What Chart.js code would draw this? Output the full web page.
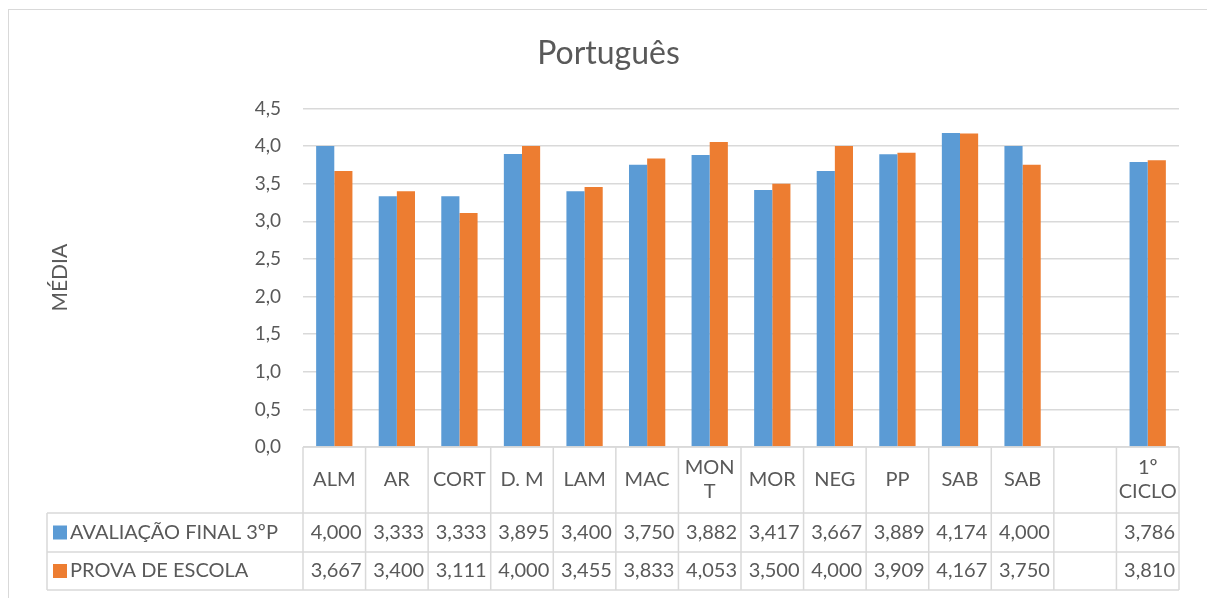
<!DOCTYPE html>
<html>
<head>
<meta charset="utf-8">
<script src="https://cdn.jsdelivr.net/npm/chart.js@4"></script>
<style>
html,body{margin:0;padding:0;background:#fff;}
#wrap{width:1207px;height:598px;position:relative;}
</style>
</head>
<body>
<div id="wrap"><canvas id="c" width="1207" height="598"></canvas></div>
<script>
const categories = ['ALM','AR','CORT','D. M','LAM','MAC','MONT','MOR','NEG','PP','SAB','SAB','','1º CICLO'];
const categoryLines = [['ALM'],['AR'],['CORT'],['D. M'],['LAM'],['MAC'],['MON','T'],['MOR'],['NEG'],['PP'],['SAB'],['SAB'],[''],['1º','CICLO']];
const avaliacaoFinal = [4.000,3.333,3.333,3.895,3.400,3.750,3.882,3.417,3.667,3.889,4.174,4.000,null,3.786];
const provaEscola   = [3.667,3.400,3.111,4.000,3.455,3.833,4.053,3.500,4.000,3.909,4.167,3.750,null,3.810];
const seriesNames = ['AVALIAÇÃO FINAL 3ºP','PROVA DE ESCOLA'];
const seriesColors = ['#5B9BD5','#ED7D31'];
const yTicks = [0,0.5,1,1.5,2,2.5,3,3.5,4,4.5];

const FONT = 'Lato, "Open Sans", sans-serif';
const TXT = '#595959';
const LINE = '#d9d9d9';

const tablePlugin = {
  id: 'dataTable',
  afterDraw(chart) {
    const ctx = chart.ctx;
    const x = chart.scales.x, ca = chart.chartArea;
    const n = categories.length;
    const step = (ca.right - ca.left) / n;
    const top = ca.bottom, r1 = top + 66, r2 = r1 + 39, r3 = r2 + 38;
    const headLeft = 47;
    ctx.save();
    ctx.strokeStyle = LINE; ctx.lineWidth = 1;
    ctx.strokeRect(8.5, 9.5, 1400, 800);
    ctx.lineWidth = 1.5;
    ctx.beginPath();
    ctx.moveTo(ca.left, top); ctx.lineTo(ca.right, top);
    [r1, r2, r3].forEach(y => { ctx.moveTo(headLeft, y); ctx.lineTo(ca.right, y); });
    for (let i = 0; i <= n; i++) {
      const xx = ca.left + i * step;
      ctx.moveTo(xx, top); ctx.lineTo(xx, r3);
    }
    ctx.moveTo(headLeft, r1); ctx.lineTo(headLeft, r3);
    ctx.stroke();
    ctx.fillStyle = TXT;
    ctx.font = '20px ' + FONT;
    ctx.textBaseline = 'middle';
    ctx.textAlign = 'center';
    categories.forEach((c, i) => {
      const cx = x.getPixelForValue(i);
      const lines = categoryLines[i];
      const lh = 24;
      const y0 = (top + r1) / 2 - (lines.length - 1) * lh / 2;
      lines.forEach((l, j) => ctx.fillText(l, cx, y0 + j * lh));
    });
    ctx.textAlign = 'right';
    const rows = [avaliacaoFinal, provaEscola];
    const rowMid = [(r1 + r2) / 2, (r2 + r3) / 2];
    rows.forEach((vals, k) => {
      vals.forEach((v, i) => {
        if (v === null) return;
        const rx = ca.left + (i + 1) * step - 4;
        ctx.fillText(v.toFixed(3).replace('.', ','), rx, rowMid[k]);
      });
      ctx.fillStyle = seriesColors[k];
      ctx.fillRect(53, rowMid[k] - 7, 14, 14);
      ctx.fillStyle = TXT;
      ctx.textAlign = 'left';
      ctx.fillText(seriesNames[k], 70, rowMid[k]);
      ctx.textAlign = 'right';
    });
    ctx.restore();
  }
};

new Chart(document.getElementById('c'), {
  type: 'bar',
  data: {
    labels: categories,
    datasets: [
      { label: seriesNames[0], data: avaliacaoFinal, backgroundColor: seriesColors[0], categoryPercentage: 0.58, barPercentage: 1 },
      { label: seriesNames[1], data: provaEscola, backgroundColor: seriesColors[1], categoryPercentage: 0.58, barPercentage: 1 }
    ]
  },
  options: {
    responsive: false,
    animation: false,
    layout: { padding: { left: 38, right: 28, top: 20, bottom: 151 } },
    plugins: {
      legend: { display: false },
      tooltip: { enabled: false },
      title: {
        display: true, text: 'Português', color: TXT,
        font: { family: FONT, size: 32, weight: 'normal' },
        padding: { top: 14, bottom: 36 }
      }
    },
    scales: {
      x: { display: false },
      y: {
        min: 0, max: 4.5,
        afterFit(s) { s.width = 265; },
        afterBuildTicks(s) { s.ticks = yTicks.map(v => ({ value: v })); },
        ticks: {
          color: TXT, padding: 22,
          font: { family: FONT, size: 19 },
          callback: v => v.toFixed(1).replace('.', ',')
        },
        grid: { color: LINE, lineWidth: 1.5, drawTicks: false },
        border: { display: false },
        title: {
          display: true, text: 'MÉDIA', color: TXT,
          font: { family: FONT, size: 21 },
          padding: { top: 10, bottom: 0 }
        }
      }
    }
  },
  plugins: [tablePlugin]
});
</script>
</body>
</html>
